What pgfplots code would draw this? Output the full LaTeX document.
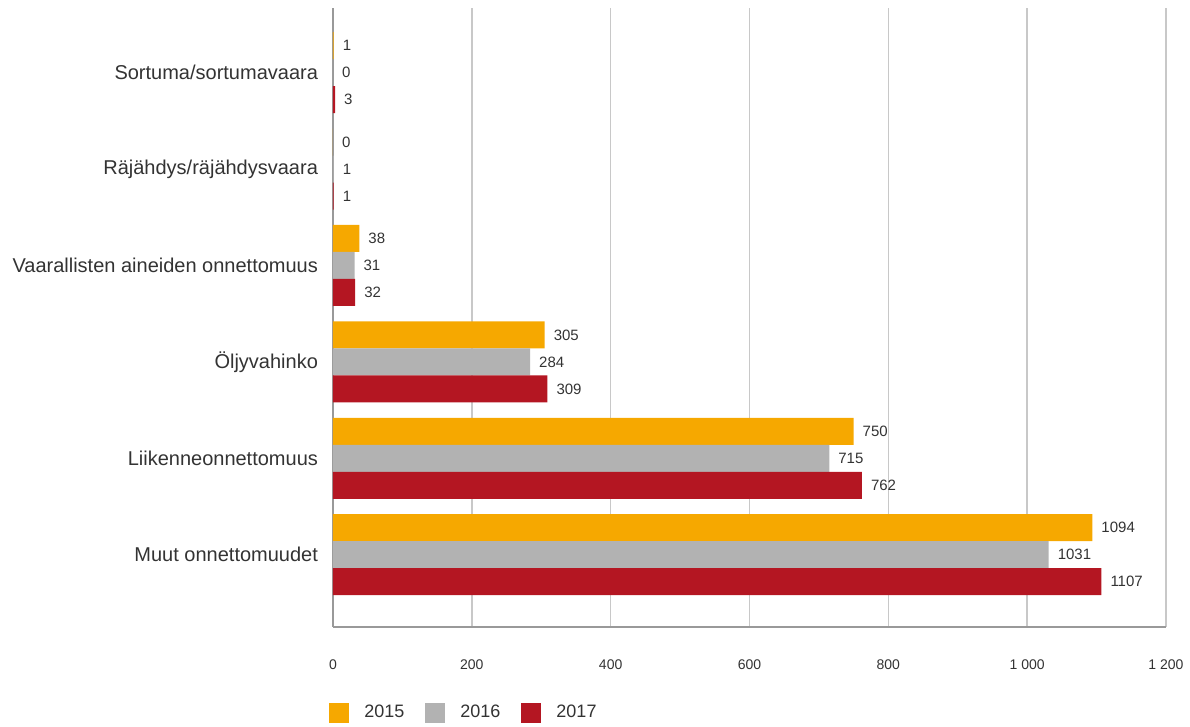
\documentclass[border=0pt]{standalone}
\usepackage{pgfplots}
\pgfplotsset{compat=1.18}
\usepackage{fontspec}
\setmainfont{Liberation Sans}
\definecolor{c2015}{HTML}{F6A800}
\definecolor{c2016}{HTML}{B2B2B2}
\definecolor{c2017}{HTML}{B41622}
\definecolor{txt}{HTML}{333333}
\definecolor{gridc}{HTML}{C8C8C8}
\definecolor{axc}{HTML}{999999}

\begin{document}
\begin{tikzpicture}
\begin{axis}[
    xbar,
    scale only axis,
    width=416.5pt, height=309.5pt,
    xmin=0, xmax=1200,
    ymin=-0.75, ymax=5.67,
    bar width=0.28,
    xtick={0,200,...,1200},
    xticklabels={0,200,400,600,800,1 000,1 200},
    ytick={0,...,5},
    yticklabels={Muut onnettomuudet,Liikenneonnettomuus,Öljyvahinko,Vaarallisten aineiden onnettomuus,Räjähdys/räjähdysvaara,Sortuma/sortumavaara},
    axis x line*=bottom,
    axis y line*=left,
    axis line style={axc, line width=0.6pt, -},
    major tick length=0pt,
    xmajorgrids,
    grid style={gridc, line width=0.8pt},
    xticklabel style={font=\fontsize{7}{8}\selectfont, text=txt, yshift=-13pt},
    yticklabel style={font=\fontsize{10}{12}\selectfont, text=txt, xshift=-4pt},
    /pgf/number format/assume math mode=true,
    /pgf/number format/1000 sep={},
    nodes near coords,
    nodes near coords style={font=\fontsize{7.5}{9}\selectfont, text=txt, xshift=1pt},
    legend columns=3,
    legend style={draw=none, at={(0,0)}, anchor=north west, xshift=-5pt, yshift=-35pt,
        font=\fontsize{9}{11}\selectfont, text=txt,
        /tikz/every odd column/.append style={column sep=5.5pt},
        /tikz/every even column/.append style={column sep=8.5pt}},
    legend image code/.code={\fill[#1,draw=none] (-5pt,-5pt) rectangle (5pt,5pt);},
]
\addplot[fill=c2015, draw=none, bar shift=0.28] coordinates {
    (1094,0) (750,1) (305,2) (38,3) (0,4) (1,5)};
\addplot[fill=c2016, draw=none, bar shift=0] coordinates {
    (1031,0) (715,1) (284,2) (31,3) (1,4) (0,5)};
\addplot[fill=c2017, draw=none, bar shift=-0.28] coordinates {
    (1107,0) (762,1) (309,2) (32,3) (1,4) (3,5)};
\legend{2015,2016,2017}
\end{axis}
\pgfresetboundingbox
\path[use as bounding box] (-166.5pt,-50pt) rectangle (428.5pt,313.5pt);
\end{tikzpicture}
\end{document}
